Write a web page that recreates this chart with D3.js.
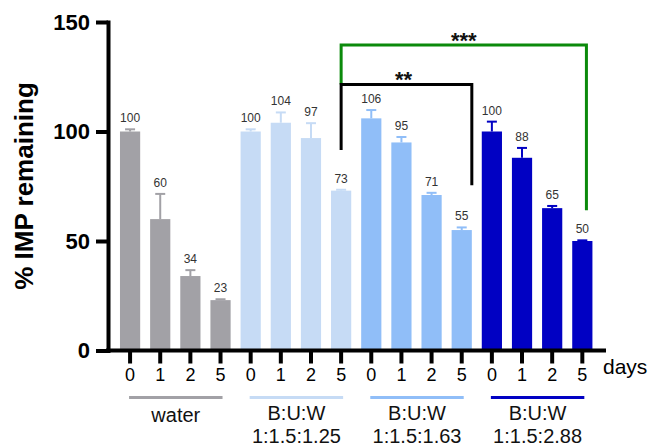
<!DOCTYPE html>
<html>
<head>
<meta charset="utf-8">
<script src="https://cdn.jsdelivr.net/npm/d3@7"></script>
<style>
  body { margin: 0; background: #fff; }
  svg { font-family: Arial, 'Liberation Sans', sans-serif; }
</style>
</head>
<body>
<script>
// data
const groupNames = ['water', 'B:U:W|1:1.5:1.25', 'B:U:W|1:1.5:1.63', 'B:U:W|1:1.5:2.88'];
const groupColors = ['#a2a1a6', '#c6dbf5', '#90bef8', '#0101c3'];
const days = ['0', '1', '2', '5'];
const waterVals = [100, 60, 34, 23];
const ratio125Vals = [100, 104, 97, 73];
const ratio163Vals = [106, 95, 71, 55];
const ratio288Vals = [100, 88, 65, 50];
const waterErr = [1, 11.5, 2.7, 0.4];
const ratio125Err = [1, 4.7, 6.8, 0.4];
const ratio163Err = [3.8, 2.5, 1, 1.2];
const ratio288Err = [4.5, 4.5, 1, 0.3];
const yTicks = [0, 50, 100, 150];
// significance brackets: bar indices, bracket level and leg ends in % units
const brackets = [
  { from: 7, to: 11, level: 139.5, leftEnd: 121.5, rightEnd: 64, label: '***', color: '#0b8a0b', shift: -6 },
  { from: 7, to: 11, level: 121.5, leftEnd: 91.5, rightEnd: 75.5, label: '**', color: '#000', shift: 0 },
];
brackets[0].to = 15;

const allVals = [waterVals, ratio125Vals, ratio163Vals, ratio288Vals];
const allErr = [waterErr, ratio125Err, ratio163Err, ratio288Err];
const data = [];
allVals.forEach((vals, g) => {
  vals.forEach((v, i) => {
    data.push({ idx: data.length, group: g, day: days[i], value: v, err: allErr[g][i] });
  });
});

const W = 651, H = 447;
const svg = d3.select('body').append('svg')
  .attr('width', W).attr('height', H);

const x = d3.scaleBand()
  .domain(data.map((d) => d.idx))
  .range([115, 597.4])
  .paddingInner(0.33)
  .paddingOuter(0.165);
const y = d3.scaleLinear().domain([0, 150]).range([350.5, 22]);
const axisX = 108;
const cx = (i) => x(i) + x.bandwidth() / 2;

// bars
svg.append('g').selectAll('rect')
  .data(data)
  .enter()
  .append('rect')
  .attr('x', (d) => x(d.idx))
  .attr('y', (d) => y(d.value))
  .attr('width', x.bandwidth())
  .attr('height', (d) => y(0) - y(d.value))
  .attr('fill', (d) => groupColors[d.group]);

// error bars (upper only)
const eb = svg.append('g').selectAll('g')
  .data(data)
  .enter()
  .append('g')
  .attr('stroke', (d) => groupColors[d.group])
  .attr('stroke-width', 2);
eb.append('line')
  .attr('x1', (d) => cx(d.idx)).attr('x2', (d) => cx(d.idx))
  .attr('y1', (d) => y(d.value)).attr('y2', (d) => y(d.value + d.err));
eb.append('line')
  .attr('x1', (d) => cx(d.idx) - 5).attr('x2', (d) => cx(d.idx) + 5)
  .attr('y1', (d) => y(d.value + d.err)).attr('y2', (d) => y(d.value + d.err));

// value labels
svg.append('g').selectAll('text')
  .data(data)
  .enter()
  .append('text')
  .attr('x', (d) => cx(d.idx))
  .attr('y', (d) => y(d.value + d.err) - 7)
  .attr('text-anchor', 'middle')
  .attr('font-size', 12)
  .attr('fill', '#333')
  .text((d) => d.value);

// y axis
const yAxis = svg.append('g')
  .attr('transform', `translate(${axisX},0)`)
  .call(d3.axisLeft(y).tickValues(yTicks).tickSize(12).tickSizeOuter(0).tickPadding(6));
yAxis.select('.domain').attr('stroke-width', 4).attr('stroke-linecap', 'square');
yAxis.selectAll('.tick line').attr('stroke-width', 4);
yAxis.selectAll('.tick text')
  .attr('font-size', 22).attr('font-weight', 'bold')
  .attr('font-family', 'Arial, Liberation Sans, sans-serif').attr('fill', '#000');

// x axis
const xAxis = svg.append('g')
  .attr('transform', `translate(0,${y(0)})`)
  .call(d3.axisBottom(x).tickSize(13).tickPadding(5).tickFormat((i) => data[i].day));
xAxis.select('.domain').remove();
xAxis.selectAll('.tick line').attr('stroke-width', 4);
xAxis.selectAll('.tick text')
  .attr('font-size', 18).attr('font-family', 'Arial, Liberation Sans, sans-serif').attr('fill', '#000');
xAxis.append('line')
  .attr('x1', axisX - 2).attr('x2', 606)
  .attr('y1', 0).attr('y2', 0)
  .attr('stroke', '#000').attr('stroke-width', 4);

svg.append('text')
  .attr('x', 603).attr('y', 374)
  .attr('font-size', 21)
  .text('days');

// y label
svg.append('text')
  .attr('transform', 'translate(33,186) rotate(-90)')
  .attr('text-anchor', 'middle')
  .attr('font-size', 26)
  .attr('font-weight', 'bold')
  .text('% IMP remaining');

// group underlines and names
groupNames.forEach((name, g) => {
  const first = g * days.length;
  const last = first + days.length - 1;
  const x1 = cx(first) - 1, x2 = cx(last) + 2;
  svg.append('line')
    .attr('x1', x1).attr('x2', x2)
    .attr('y1', 397.5).attr('y2', 397.5)
    .attr('stroke', groupColors[g]).attr('stroke-width', 3);
  const lines = name.split('|');
  const t = svg.append('text')
    .attr('text-anchor', 'middle')
    .attr('font-size', 20)
    .attr('fill', '#111');
  lines.forEach((ln, k) => {
    t.append('tspan')
      .attr('x', (x1 + x2) / 2)
      .attr('y', (lines.length === 1 ? 422 : 420) + k * 22.7)
      .text(ln);
  });
});

// significance brackets
brackets.forEach((b) => {
  const xl = cx(b.from);
  const xr = x(b.to) + x.bandwidth() + b.shift;
  svg.append('path')
    .attr('d', `M${xl},${y(b.leftEnd)}V${y(b.level)}H${xr}V${y(b.rightEnd)}`)
    .attr('fill', 'none')
    .attr('stroke', b.color)
    .attr('stroke-width', 3);
  svg.append('text')
    .attr('x', (xl + xr) / 2 + (b.to === 11 ? -3 : 0))
    .attr('y', y(b.level) - 6 + 9)
    .attr('text-anchor', 'middle')
    .attr('font-size', 22)
    .attr('font-weight', 'bold')
    .attr('fill', '#111')
    .text(b.label);
});
</script>
</body>
</html>
